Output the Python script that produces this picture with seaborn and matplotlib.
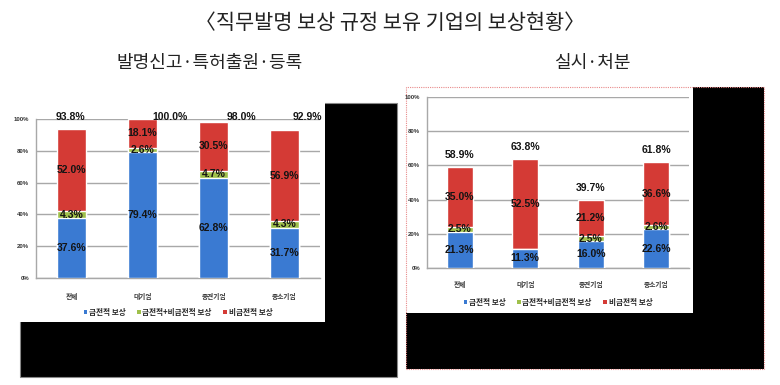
import matplotlib
matplotlib.use("Agg")
import matplotlib.pyplot as plt
from matplotlib.patches import Rectangle, Patch
import seaborn as sns
import pandas as pd

# data
categories = ["전체", "대기업", "중견기업", "중소기업"]
series_names = ["금전적 보상", "금전적+비금전적 보상", "비금전적 보상"]

left_money = [37.6, 79.4, 62.8, 31.7]
left_both = [4.3, 2.6, 4.7, 4.3]
left_nonmoney = [52.0, 18.1, 30.5, 56.9]
left_total = [93.8, 100.0, 98.0, 92.9]

right_money = [21.3, 11.3, 16.0, 22.6]
right_both = [2.5, 0.0, 2.5, 2.6]
right_nonmoney = [35.0, 52.5, 21.2, 36.6]
right_total = [58.9, 63.8, 39.7, 61.8]

yticks = [0, 20, 40, 60, 80, 100]

BLUE = "#3a7ad2"
GREEN = "#9fc04a"
RED = "#d43a35"
GRID = "#a8a8a8"
TXT = "#141414"

sns.set_style("white")
plt.rcParams["font.family"] = ["Noto Sans CJK KR", "DejaVu Sans"]
NUM_FONT = ["Liberation Sans Narrow", "Liberation Sans", "DejaVu Sans"]

W, H = 780, 385
fig = plt.figure(figsize=(7.8, 3.85), dpi=100)


def box(x0, y0, x1, y1, **kw):
    # pixel box (top-left origin) -> figure rectangle
    r = Rectangle((x0 / W, 1 - y1 / H), (x1 - x0) / W, (y1 - y0) / H,
                  transform=fig.transFigure, **kw)
    fig.patches.append(r)
    return r


# black "shadow" frames behind both chart pictures
box(20, 103, 397, 377, facecolor="black", edgecolor="#888888", lw=0.8, zorder=-10)
box(4, 80, 325, 322, facecolor="white", edgecolor="none", zorder=-9)
box(406, 87, 764, 369, facecolor="black", edgecolor="none", zorder=-10)
box(406, 87, 693, 313, facecolor="white", edgecolor="none", zorder=-9)
box(406, 87, 764, 369, facecolor="none", edgecolor="#e88a8a", lw=0.8,
    linestyle=(0, (1, 1)), zorder=-8)


def panel(rect, money, both, nonmoney, total, total_pos, total_y, legend_y, cat_pad):
    ax = fig.add_axes(rect)
    ax.set_facecolor("none")
    df = pd.DataFrame({
        "cat": categories,
        "money": money,
        "both": [m + b for m, b in zip(money, both)],
        "all": [m + b + n for m, b, n in zip(money, both, nonmoney)],
    })
    sns.barplot(data=df, x="cat", y="all", color=RED, width=0.4, ax=ax,
                saturation=1, zorder=3)
    sns.barplot(data=df, x="cat", y="both", color=GREEN, width=0.4, ax=ax,
                saturation=1, zorder=3)
    sns.barplot(data=df, x="cat", y="money", color=BLUE, width=0.4, ax=ax,
                saturation=1, zorder=3)

    for i in range(len(categories)):
        b0 = money[i]
        b1 = money[i] + both[i]
        ax.text(i, b0 / 2, f"{money[i]:.1f}%", ha="center", va="center",
                fontsize=7.5, fontweight="bold", color=TXT, family=NUM_FONT, zorder=5)
        if both[i] > 0:
            ax.text(i, (b0 + b1) / 2, f"{both[i]:.1f}%", ha="center", va="center",
                    fontsize=7.5, fontweight="bold", color=TXT, family=NUM_FONT, zorder=5)
        ax.text(i, b1 + nonmoney[i] / 2, f"{nonmoney[i]:.1f}%", ha="center",
                va="center", fontsize=7.5, fontweight="bold", color=TXT,
                family=NUM_FONT, zorder=5)
        ty = total_y if total_y is not None else total[i] + 7
        ax.text(i + total_pos[i], ty, f"{total[i]:.1f}%", ha="center", va="center",
                fontsize=7.5, fontweight="bold", color=TXT, family=NUM_FONT, zorder=5)

    ax.set_xlim(-0.5, 3.5)
    ax.set_ylim(0, 100)
    ax.set_yticks(yticks)
    ax.set_yticklabels([f"{v}%" for v in yticks], fontsize=4.3, fontweight="bold",
                       family=NUM_FONT, color="#333333")
    ax.yaxis.grid(True, color=GRID, lw=1, zorder=0)
    ax.set_axisbelow(True)
    ax.set_xlabel("")
    ax.set_ylabel("")
    ax.set_xticks(range(len(categories)))
    ax.set_xticklabels(categories, fontsize=4.8, fontweight="bold", color="#333333")
    ax.set_xticks([-0.5, 0.5, 1.5, 2.5, 3.5], minor=True)
    ax.tick_params(axis="x", which="major", length=0, pad=cat_pad)
    ax.tick_params(axis="x", which="minor", length=3, color=GRID, direction="out")
    ax.tick_params(axis="y", length=3, color=GRID, direction="out", pad=2)
    for s in ["top", "right"]:
        ax.spines[s].set_visible(False)
    for s in ["left", "bottom"]:
        ax.spines[s].set_color(GRID)
        ax.spines[s].set_linewidth(1)

    handles = [Patch(facecolor=c, edgecolor="none", label=l)
               for c, l in zip([BLUE, GREEN, RED], series_names)]
    ax.legend(handles=handles, loc="center", bbox_to_anchor=(0.5, legend_y), ncol=3,
              frameon=False, handlelength=0.5, handleheight=0.5,
              handletextpad=0.2, columnspacing=1.5, prop={"size": 5.5, "weight": "bold"})
    return ax


# left: invention report / patent application / registration
panel([36 / W, 1 - 278 / H, 284 / W, 159 / H], left_money, left_both, left_nonmoney,
      left_total, [-0.02, 0.39, 0.40, 0.32], 101.5, -0.215, 11)
# right: implementation / disposal
panel([427 / W, 1 - 268 / H, 262 / W, 171 / H], right_money, right_both, right_nonmoney,
      right_total, [0, 0, 0, 0], None, -0.2, 9)

fig.text(0.5, 1 - 23 / H, "〈직무발명 보상 규정 보유 기업의 보상현황〉", ha="center",
         va="center", fontsize=15, color="#222222")
fig.text(210 / W, 1 - 63 / H, "발명신고·특허출원·등록", ha="center", va="center",
         fontsize=13, color="#222222")
fig.text(592 / W, 1 - 63 / H, "실시·처분", ha="center", va="center",
         fontsize=13, color="#222222")

fig.savefig("out.png", dpi=100)
